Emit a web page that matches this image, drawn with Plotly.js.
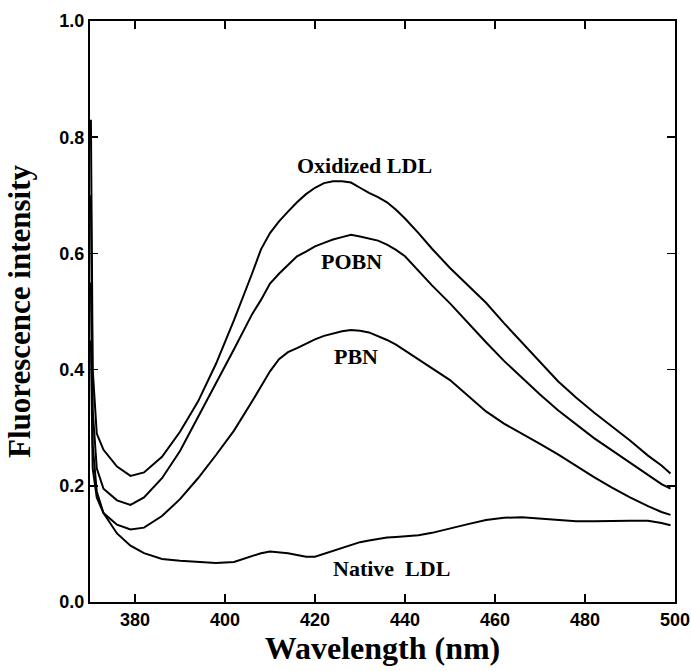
<!DOCTYPE html>
<html>
<head>
<meta charset="utf-8">
<script src="https://cdn.plot.ly/plotly-3.0.1.min.js"></script>
<style>html,body{margin:0;padding:0;background:#fff;}#chart{width:691px;height:671px;}</style>
</head>
<body>
<div id="chart"></div>
<script>
// Wavelength grid (nm)
const wavelength = [370.2, 370.6, 371.5, 373, 376, 379, 382, 386, 390, 394, 398, 402, 406, 408, 410, 412, 414, 416, 418, 420, 422, 424, 426, 428, 430, 432, 434, 436, 438, 440, 443, 446, 450, 454, 458, 462, 466, 470, 474, 478, 482, 486, 490, 494, 497, 499];

const oxidizedLDL = [0.83, 0.40, 0.29, 0.262, 0.233, 0.217, 0.223, 0.250, 0.293, 0.345, 0.410, 0.485, 0.565, 0.607, 0.635, 0.655, 0.672, 0.688, 0.702, 0.713, 0.721, 0.724, 0.724, 0.722, 0.713, 0.704, 0.697, 0.688, 0.675, 0.660, 0.635, 0.608, 0.575, 0.545, 0.515, 0.480, 0.447, 0.413, 0.380, 0.352, 0.326, 0.302, 0.278, 0.252, 0.235, 0.221];

const pobn = [0.70, 0.33, 0.23, 0.195, 0.175, 0.167, 0.180, 0.213, 0.260, 0.318, 0.375, 0.435, 0.495, 0.520, 0.548, 0.565, 0.580, 0.595, 0.603, 0.612, 0.618, 0.624, 0.628, 0.632, 0.629, 0.625, 0.622, 0.615, 0.606, 0.595, 0.570, 0.545, 0.514, 0.480, 0.447, 0.415, 0.386, 0.357, 0.330, 0.306, 0.282, 0.261, 0.240, 0.218, 0.203, 0.195];

const pbn = [0.55, 0.27, 0.19, 0.153, 0.133, 0.125, 0.128, 0.148, 0.177, 0.213, 0.253, 0.295, 0.345, 0.370, 0.397, 0.418, 0.430, 0.437, 0.445, 0.452, 0.458, 0.462, 0.466, 0.468, 0.467, 0.464, 0.458, 0.451, 0.443, 0.433, 0.418, 0.403, 0.382, 0.355, 0.328, 0.307, 0.290, 0.272, 0.254, 0.234, 0.215, 0.197, 0.180, 0.165, 0.155, 0.150];

const nativeLDL = [0.45, 0.23, 0.180, 0.153, 0.118, 0.097, 0.084, 0.074, 0.071, 0.069, 0.067, 0.069, 0.079, 0.084, 0.087, 0.086, 0.084, 0.081, 0.078, 0.078, 0.083, 0.088, 0.094, 0.099, 0.103, 0.106, 0.109, 0.111, 0.112, 0.113, 0.115, 0.119, 0.127, 0.134, 0.141, 0.145, 0.146, 0.144, 0.141, 0.139, 0.139, 0.140, 0.140, 0.140, 0.136, 0.132];

const seriesNames = ["Oxidized LDL", "POBN", "PBN", "Native  LDL"];
const seriesValues = [oxidizedLDL, pobn, pbn, nativeLDL];

// Label anchor positions (data coords)
const labelX = [431, 428, 429, 437];
const labelY = [0.752, 0.586, 0.422, 0.058];

const xTicks = [380, 400, 420, 440, 460, 480, 500];
const yTicks = [0.0, 0.2, 0.4, 0.6, 0.8, 1.0];

const traces = seriesValues.map((vals, i) => ({
  x: wavelength, y: vals, type: "scatter", mode: "lines",
  name: seriesNames[i],
  line: {color: "#000", width: 2},
  hoverinfo: "x+y"
}));

const serif = "Liberation Serif";
const sans = "Liberation Sans";

const annotations = seriesNames.map((t, i) => ({
  x: labelX[i], y: labelY[i], xref: "x", yref: "y", text: t,
  showarrow: false, font: {family: serif, size: 22, color: "#000", weight: "bold"}
}));

const axisCommon = {
  showline: true, linecolor: "#000", linewidth: 2, mirror: "ticks",
  ticks: "inside", ticklen: 8, tickwidth: 1.5, tickcolor: "#000",
  showgrid: false, zeroline: false,
  tickfont: {family: sans, size: 18, color: "#000", weight: "bold"}
};

const layout = {
  width: 691, height: 671,
  margin: {l: 90, r: 16, t: 21, b: 69},
  paper_bgcolor: "#fff", plot_bgcolor: "#fff",
  showlegend: false,
  xaxis: Object.assign({}, axisCommon, {
    range: [370, 500], tickvals: xTicks, ticktext: xTicks.map(String),
    title: {text: "Wavelength (nm)", font: {family: serif, size: 32, color: "#000", weight: "bold"}, standoff: 3}
  }),
  yaxis: Object.assign({}, axisCommon, {
    range: [0, 1], tickvals: yTicks, ticktext: yTicks.map(v => v.toFixed(1)),
    title: {text: "Fluorescence intensity", font: {family: serif, size: 31, color: "#000", weight: "bold"}, standoff: 20}
  }),
  annotations: annotations
};

Plotly.newPlot("chart", traces, layout, {displayModeBar: false, staticPlot: true});
</script>
</body>
</html>
